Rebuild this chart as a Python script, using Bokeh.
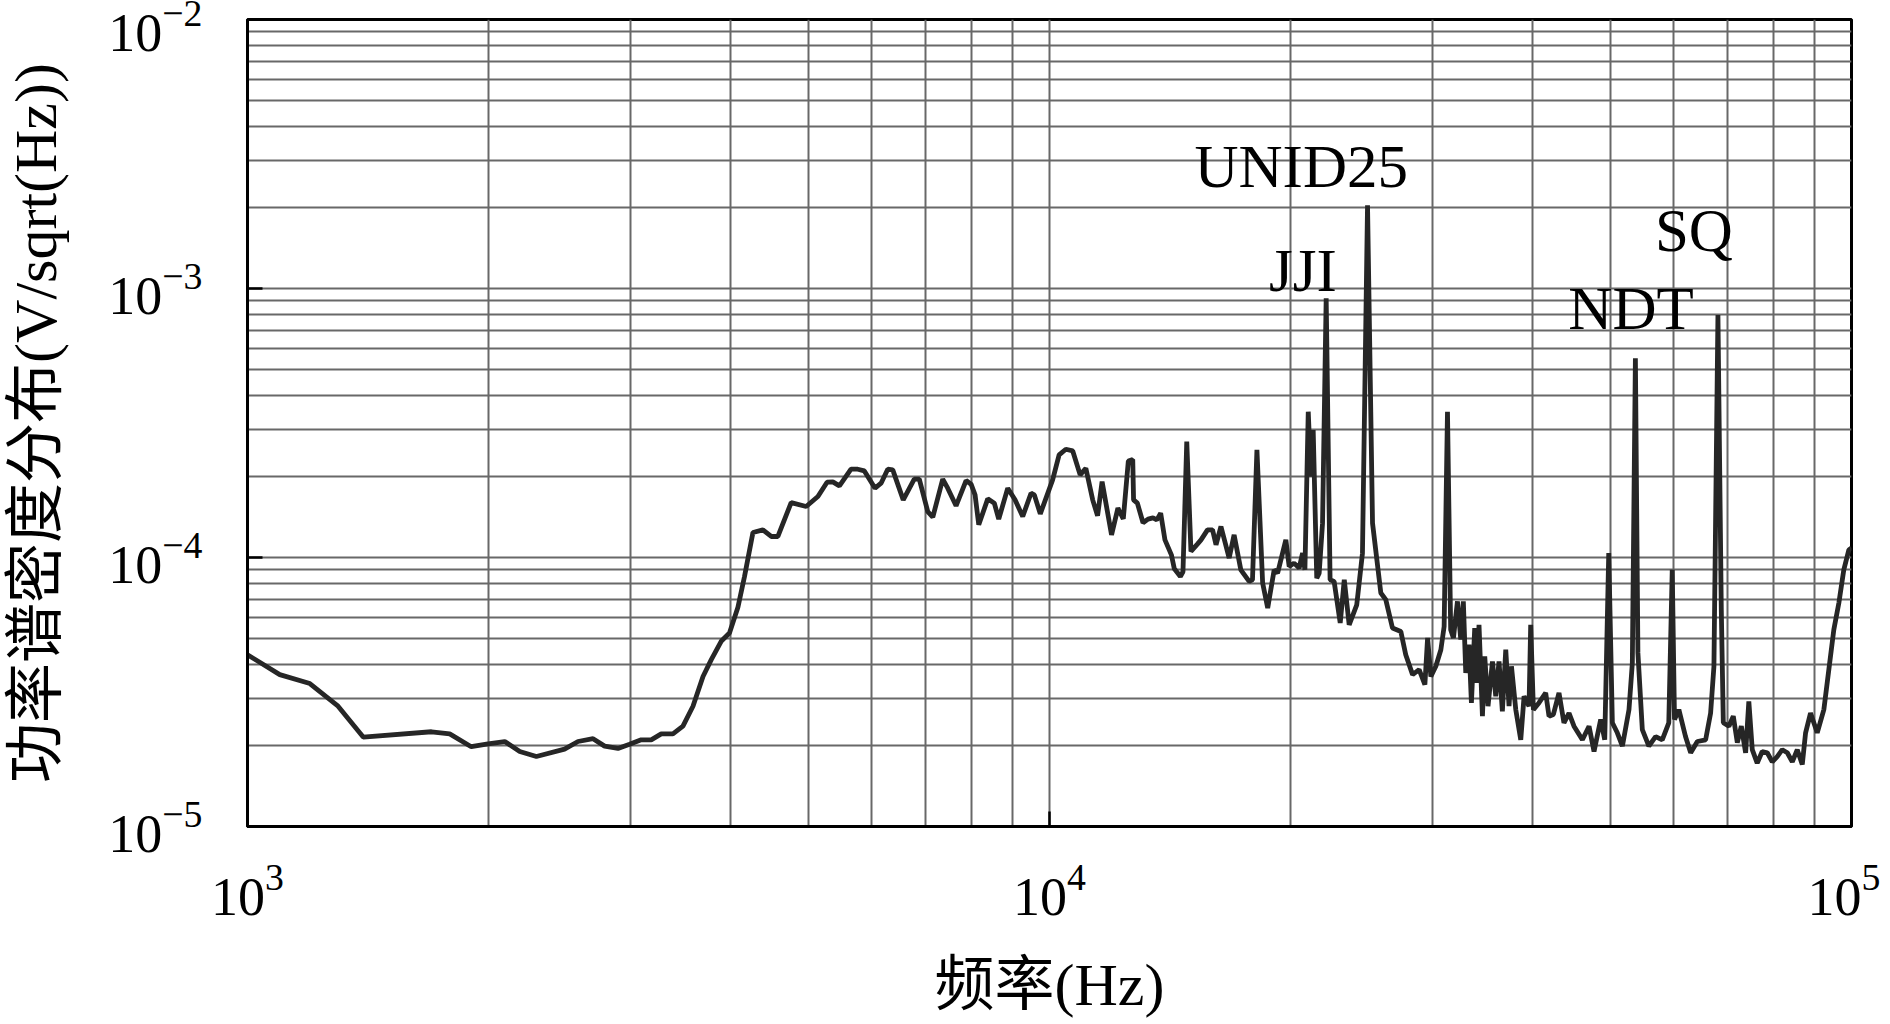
from bokeh.plotting import figure
from bokeh.models import Range1d, FixedTicker, ColumnDataSource, LogTickFormatter
from bokeh.core.properties import value
from bokeh.embed import file_html
from bokeh.resources import INLINE

# frequency in kHz
freq_khz = [1.00, 1.097, 1.196, 1.297, 1.394, 1.696, 1.787, 1.901, 1.995, 2.093,
            2.185, 2.292, 2.485, 2.583, 2.697, 2.788, 2.897, 2.995, 3.097, 3.187,
            3.280, 3.392, 3.491, 3.593, 3.698, 3.787, 3.896, 3.990, 4.088, 4.166,
            4.268, 4.392, 4.498, 4.585, 4.763, 4.973, 5.143, 5.280, 5.368, 5.471,
            5.656, 5.767, 5.877, 6.060, 6.166, 6.285, 6.376, 6.571, 6.782, 6.881,
            7.05, 7.153, 7.360, 7.466, 7.647, 7.870, 7.984, 8.076, 8.162, 8.375,
            8.535, 8.644, 8.870, 9.058, 9.260, 9.483, 9.574, 9.739, 10.09, 10.28,
            10.48, 10.69, 10.92, 11.10, 11.32, 11.48, 11.63, 11.95, 12.17, 12.36,
            12.54, 12.70, 12.73, 12.87, 13.08, 13.27, 13.46, 13.61, 13.76, 13.93,
            14.19, 14.31, 14.56, 14.67, 14.83, 15.01, 15.30, 15.45, 15.74, 15.97,
            16.13, 16.36, 16.75, 16.99, 17.32, 17.74, 17.91, 18.14, 18.44, 18.71,
            19.06, 19.25, 19.71, 19.90, 20.18, 20.48, 20.68, 20.82, 21.02, 21.18,
            21.32, 21.54, 21.69, 21.90, 22.13, 22.38, 22.64, 23.04, 23.31, 23.64,
            24.16, 24.56, 24.92, 25.28, 25.89, 26.26, 26.77, 27.42, 27.81, 28.36,
            28.90, 29.38, 29.61, 29.89, 30.32, 30.76, 31.05, 31.35, 31.64, 31.89,
            32.26, 32.57, 32.81, 33.04, 33.35, 33.58, 33.90, 34.10, 34.32, 34.66,
            34.89, 35.22, 35.67, 36.01, 36.35, 36.70, 37.06, 37.41, 37.67, 38.14,
            38.69, 39.06, 39.62, 39.81, 40.12, 40.76, 41.56, 41.96, 42.49, 43.18,
            43.80, 44.44, 45.08, 46.18, 47.07, 47.75, 48.67, 49.24, 49.81, 50.33,
            51.05, 51.80, 52.79, 53.30, 53.77, 54.16, 54.85, 55.89, 56.98, 58.08,
            59.18, 59.77, 60.16, 60.92, 62.09, 63.02, 64.24, 65.78, 66.73, 67.37,
            68.15, 68.81, 69.21, 70.33, 71.22, 72.05, 72.88, 73.79, 74.47, 75.21,
            76.28, 77.38, 78.52, 79.65, 80.80, 81.96, 83.17, 84.37, 85.58, 86.82,
            87.65, 88.90, 90.63, 92.37, 93.70, 95.05, 96.43, 97.81, 99.24, 100.0]

# power spectral density in units of 1e-5 V/sqrt(Hz)
psd_e5 = [4.35, 3.67, 3.40, 2.80, 2.15, 2.25, 2.21, 1.98, 2.03, 2.07,
          1.90, 1.82, 1.94, 2.07, 2.12, 1.99, 1.95, 2.02, 2.10, 2.10,
          2.21, 2.21, 2.36, 2.80, 3.61, 4.17, 4.88, 5.24, 6.53, 8.50,
          12.38, 12.67, 11.97, 11.97, 16.00, 15.47, 16.85, 19.05, 19.10, 18.46,
          21.29, 21.29, 20.98, 18.10, 18.89, 21.29, 21.17, 16.38, 19.55, 19.55,
          14.82, 14.13, 19.55, 18.10, 15.56, 19.32, 18.73, 17.09, 13.23, 16.52,
          15.92, 13.89, 18.10, 16.38, 14.20, 17.34, 17.09, 14.53, 19.44, 24.06,
          25.26, 24.90, 20.28, 21.48, 16.38, 14.29, 19.15, 12.14, 15.26, 13.92,
          22.86, 23.15, 16.38, 15.92, 13.46, 13.89, 14.04, 13.80, 14.62, 11.63,
          10.23, 9.08, 8.50, 8.85, 26.96, 10.54, 11.24, 11.63, 12.67, 12.67,
          11.15, 13.04, 9.95, 12.14, 9.00, 8.15, 8.26, 25.12, 8.04, 6.49,
          9.00, 8.75, 11.63, 9.26, 9.53, 9.13, 10.38, 9.00, 34.84, 19.99,
          29.80, 8.38, 8.75, 13.42, 91.90, 8.26, 8.15, 5.71, 8.26, 5.62,
          6.67, 10.38, 204.0, 13.42, 7.38, 6.97, 5.47, 5.31, 4.35, 3.67,
          3.83, 3.37, 5.02, 3.61, 3.94, 4.54, 5.54, 34.84, 5.39, 5.02,
          6.87, 4.95, 6.87, 3.72, 4.74, 2.88, 5.47, 3.42, 5.62, 2.57,
          4.29, 2.80, 4.11, 3.05, 4.11, 2.68, 4.54, 2.80, 3.94, 2.72,
          2.10, 3.05, 2.80, 5.62, 2.72, 2.88, 3.14, 2.57, 2.61, 3.14,
          2.43, 2.64, 2.36, 2.10, 2.36, 1.90, 2.50, 2.10, 10.38, 2.43,
          2.23, 1.99, 2.72, 4.05, 55.02, 4.42, 2.29, 1.99, 2.16, 2.10,
          2.43, 9.00, 2.50, 2.72, 2.16, 1.88, 2.07, 2.10, 2.64, 3.94,
          79.63, 6.40, 2.43, 2.36, 2.57, 2.05, 2.36, 1.88, 2.92, 1.93,
          1.72, 1.90, 1.88, 1.74, 1.82, 1.93, 1.88, 1.74, 1.93, 1.70,
          2.23, 2.64, 2.23, 2.72, 3.83, 5.39, 6.77, 9.00, 10.68, 10.86]

# peak annotations
ann_text = ["UNID25", "JJI", "NDT", "SQ"]
ann_freq_khz = [20.6, 20.7, 53.1, 63.6]
ann_psd = [2.84e-3, 1.17e-3, 8.45e-4, 1.64e-3]

x_ticks = [1e3, 1e4, 1e5]
y_ticks = [1e-5, 1e-4, 1e-3, 1e-2]

x_label = "频率(Hz)"
y_label = "功率谱密度分布(V/sqrt(Hz))"

freq = [f * 1000 for f in freq_khz]
psd = [v * 1e-5 for v in psd_e5]

x_minor = [m * d for d in (1e3, 1e4) for m in range(2, 10)]
y_minor = [m * d for d in (1e-5, 1e-4, 1e-3) for m in range(2, 10)]

SERIF = "Liberation Serif, Noto Sans CJK SC"

p = figure(width=1880, height=1020, x_axis_type="log", y_axis_type="log",
           x_range=Range1d(1e3, 1e5), y_range=Range1d(1e-5, 1e-2),
           output_backend="svg", toolbar_location=None,
           min_border_left=246, min_border_right=29, min_border_top=19, min_border_bottom=193)

p.background_fill_color = "white"
p.border_fill_color = "white"
p.outline_line_color = "black"
p.outline_line_width = 3

p.xaxis.ticker = FixedTicker(ticks=x_ticks, minor_ticks=x_minor)
p.yaxis.ticker = FixedTicker(ticks=y_ticks, minor_ticks=y_minor)
p.xaxis.formatter = LogTickFormatter()
p.yaxis.formatter = LogTickFormatter()

for g in (p.xgrid, p.ygrid):
    g.grid_line_color = "#686868"
    g.grid_line_width = 2
    g.minor_grid_line_color = "#686868"
    g.minor_grid_line_width = 2

for ax in (p.xaxis, p.yaxis):
    ax.axis_line_color = "black"
    ax.axis_line_width = 3
    ax.major_tick_in = 15
    ax.major_tick_out = 0
    ax.major_tick_line_color = "black"
    ax.major_tick_line_width = 2.5
    ax.minor_tick_in = 0
    ax.minor_tick_out = 0
    ax.major_label_text_font = SERIF
    ax.major_label_text_font_size = "54px"
    ax.major_label_text_color = "black"
    ax.axis_label_text_font = SERIF
    ax.axis_label_text_font_size = "60px"
    ax.axis_label_text_font_style = "normal"
    ax.axis_label_text_color = "black"

p.xaxis.axis_label = x_label
p.yaxis.axis_label = y_label
p.xaxis.major_label_standoff = 38
p.yaxis.major_label_standoff = 45
p.xaxis.axis_label_standoff = 34
p.yaxis.axis_label_standoff = 36

p.line(freq, psd, line_color="#262626", line_width=4.8)

src = ColumnDataSource(dict(x=[f * 1000 for f in ann_freq_khz], y=ann_psd, t=ann_text))
p.text(x="x", y="y", text="t", source=src, text_font=value("Liberation Serif"),
       text_font_size="61px", text_align="center", text_baseline="alphabetic",
       text_color="black")

open("out.html", "w").write(file_html(p, INLINE))
